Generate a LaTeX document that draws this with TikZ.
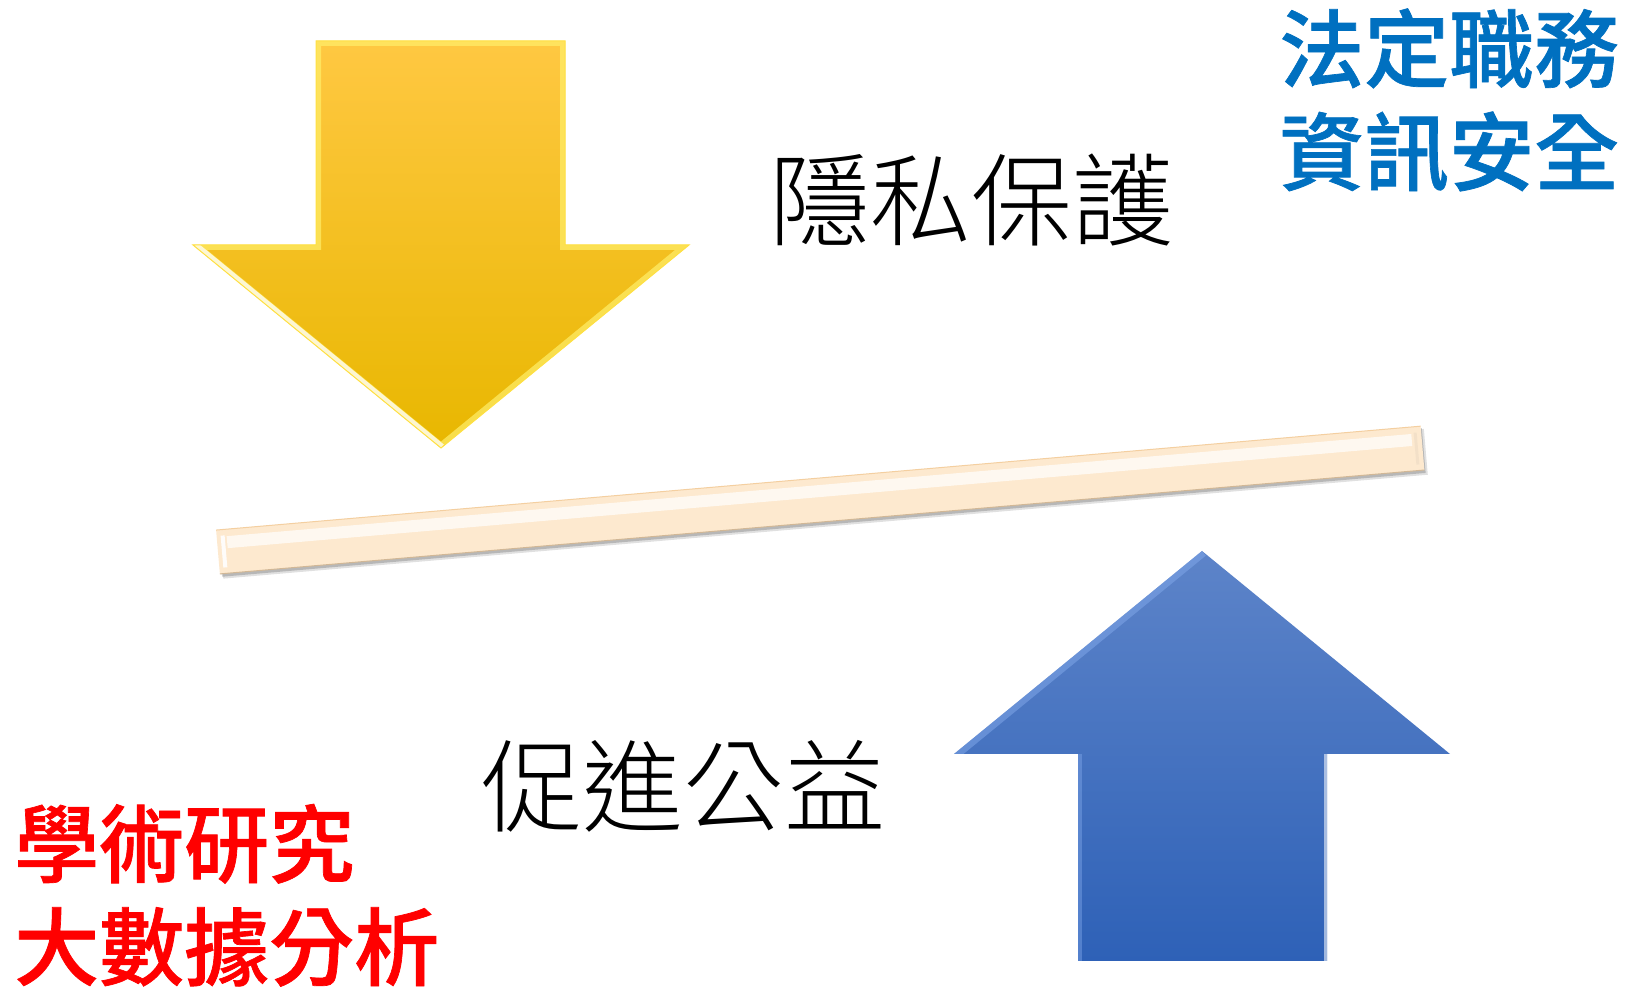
\documentclass[tikz,border=0pt]{standalone}
\usepackage{fontspec}
\newfontfamily\cjklight{Noto Sans CJK TC Light}
\newfontfamily\cjkmed{Noto Sans CJK TC Medium}[FakeBold=0.8]
\usetikzlibrary{calc}
\definecolor{ytop}{HTML}{FFC842}
\definecolor{ymid}{HTML}{FFCA06}
\definecolor{ybot}{HTML}{E8B700}
\definecolor{ybevel}{HTML}{FFEF6A}
\definecolor{btop}{HTML}{5D84C9}
\definecolor{bmid}{HTML}{4474CC}
\definecolor{bbot}{HTML}{2E61B7}
\definecolor{bbevel}{HTML}{7FA6E8}
\definecolor{peach}{HTML}{FDE9CF}
\definecolor{peachedge}{HTML}{F4CFA0}
\definecolor{tblue}{HTML}{0070C0}
\definecolor{tred}{HTML}{FF0000}
\tikzset{
  bigtext/.style={font=\cjklight\fontsize{101}{110}\selectfont, text=black, inner sep=0pt, anchor=base west},
  colortext/.style={font=\cjkmed\fontsize{85}{103}\selectfont, inner sep=0pt, anchor=base west},
}
\begin{document}
\begin{tikzpicture}[x=1pt,y=1pt]
\useasboundingbox (0,0) rectangle (1630,987);
\fill[white] (0,0) rectangle (1630,987);

% yellow down arrow
\def\ypath{(316,946) -- (565,946) -- (565,742) -- (689,742) -- (441,539) -- (193,742) -- (316,742) -- cycle}
\shade[top color=ytop, middle color=ymid, bottom color=ybot] \ypath;
\begin{scope}
  \clip \ypath;
  \draw[ybevel, line width=10, opacity=0.7, line join=miter] \ypath;
  \draw[white, line width=9, opacity=0.75] (193,742) -- (441,539);
\end{scope}
\draw[ybevel!60!ymid, line width=1] \ypath;

% bar
\begin{scope}[shift={(218,435)}, rotate=4.93]
  \fill[black, opacity=0.12] (3,-27) rectangle (1212,19);
  \fill[black, opacity=0.18] (2,-25) rectangle (1210,20);
  \fill[peach] (0,-22) rectangle (1209,22);
  \draw[white, line width=12, opacity=0.7, line cap=butt] (10,9) -- (1199,9);
  \draw[white, line width=4, opacity=0.9] (6,-16) -- (6,16);
  \draw[peach!85!gray, line width=3, opacity=0.5] (1203,-16) -- (1203,16);
  \draw[peachedge, line width=1] (0,22) -- (1209,22);
  \draw[peachedge!70!gray, line width=1] (0,-22) -- (1209,-22);
\end{scope}

% blue up arrow
\def\bpath{(1202,436) -- (1450,233) -- (1327,233) -- (1327,26) -- (1078,26) -- (1078,233) -- (954,233) -- cycle}
\shade[top color=btop, middle color=bmid, bottom color=bbot] \bpath;
\begin{scope}
  \clip \bpath;
  \draw[bbevel, line width=12, opacity=0.55] (954,233) -- (1202,436);
  \draw[bbevel, line width=8, opacity=0.45] (1078,233) -- (1078,26);
  \draw[white, line width=6, opacity=0.55] (1327,233) -- (1327,26);
\end{scope}

% texts
\node[bigtext] (privacy) at (769,748) {隱私保護};
\node[bigtext] (public) at (481,162) {促進公益};
\node[colortext, text=tblue] (duty) at (1279,906) {法定職務};
\node[colortext, text=tblue] (infosec) at (1279,803) {資訊安全};
\node[colortext, text=tred] (research) at (14,111) {學術研究};
\node[colortext, text=tred] (bigdata) at (14,8) {大數據分析};
\end{tikzpicture}
\end{document}
